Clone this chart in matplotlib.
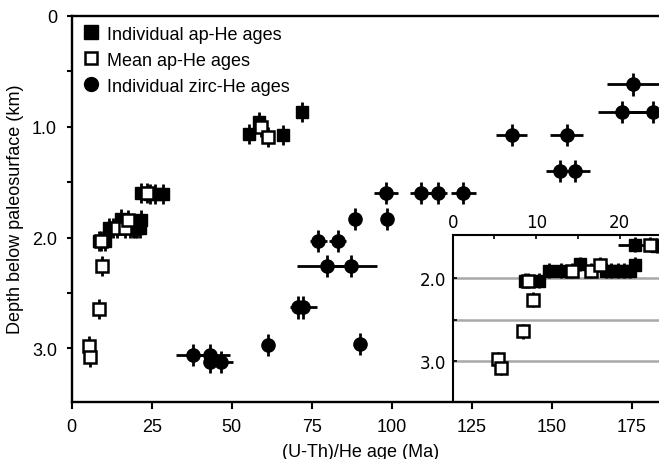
import matplotlib.pyplot as plt
from matplotlib.lines import Line2D

# individual apatite He ages (filled squares)
ap_age = [55.5, 58.5, 66.0, 72.0, 21.8, 24.5, 26.0, 28.6,
          11.5, 13.0, 15.3, 18.3, 19.0, 19.8, 20.5, 21.2, 21.8, 8.6, 10.3]
ap_depth = [1.07, 0.96, 1.075, 0.87, 1.60, 1.61, 1.61, 1.61,
            1.91, 1.91, 1.83, 1.91, 1.91, 1.91, 1.91, 1.91, 1.84, 2.03, 2.03]
ap_xerr = [1.0, 1.0, 1.0, 1.0, 2.0, 0.8, 0.8, 0.8,
           0.6, 0.6, 0.6, 0.5, 0.5, 0.5, 0.5, 0.5, 0.6, 0.6, 0.6]
ap_yerr = 0.09

# mean apatite He ages (open squares)
mean_age = [59.0, 61.4, 23.6, 14.3, 16.5, 17.6, 9.0, 9.6, 8.4, 5.4, 5.8]
mean_depth = [1.0, 1.09, 1.60, 1.91, 1.91, 1.84, 2.03, 2.26, 2.64, 2.98, 3.08]
mean_xerr = [0.5] * len(mean_age)
mean_yerr = 0.09

# individual zircon He ages (filled circles)
zr_age = [175.5, 171.9, 181.6, 137.5, 154.7, 152.6, 157.3, 98.2, 109.2, 114.4,
          122.4, 88.5, 98.5, 77.1, 83.1, 79.7, 87.3, 70.6, 72.4, 61.4, 90.1,
          37.8, 43.2, 43.2, 46.6]
zr_depth = [0.62, 0.87, 0.87, 1.075, 1.075, 1.40, 1.40, 1.60, 1.60, 1.60,
            1.60, 1.83, 1.83, 2.03, 2.03, 2.26, 2.26, 2.63, 2.63, 2.97, 2.96,
            3.06, 3.06, 3.12, 3.12]
zr_xerr = [8.2, 7.5, 7.5, 4.9, 5.2, 4.5, 4.5, 3.9, 3.5, 3.0,
           3.9, 1.0, 1.0, 2.7, 2.7, 9.4, 8.0, 1.5, 4.2, 0.5, 0.5,
           5.2, 6.3, 2.0, 3.9]
zr_yerr = 0.1

legend_labels = ["Individual ap-He ages", "Mean ap-He ages", "Individual zirc-He ages"]

plt.rcParams['font.family'] = ['Liberation Sans', 'DejaVu Sans']


def draw(ax):
    eb = dict(ls='none', ecolor='black', elinewidth=2.0, capsize=0)
    ax.errorbar(zr_age, zr_depth, xerr=zr_xerr, yerr=zr_yerr, marker='o',
                ms=9.5, mfc='black', mec='black', zorder=3, **eb)
    ax.errorbar(ap_age, ap_depth, xerr=ap_xerr, yerr=ap_yerr, marker='s',
                ms=9, mfc='black', mec='black', zorder=4, **eb)
    ax.errorbar(mean_age, mean_depth, xerr=mean_xerr, yerr=mean_yerr, marker='s',
                ms=8.5, mfc='white', mec='black', mew=1.8, zorder=5, **eb)


fig = plt.figure(figsize=(6.59, 4.60), dpi=100)
W, H = 659, 460

ax = fig.add_axes([71.7 / W, (H - 402.7) / H, (W - 71.7) / W, 386 / H])
draw(ax)
ax.set_xlim(0, 183.5)
ax.set_ylim(3.48, 0)
ax.set_xticks([0, 25, 50, 75, 100, 125, 150, 175])
ax.set_yticks([0, 1, 2, 3], ["0", "1.0", "2.0", "3.0"])
ax.set_yticks([0.5, 1.5, 2.5], minor=True)
ax.spines['right'].set_visible(False)
for s in ['left', 'top', 'bottom']:
    ax.spines[s].set_linewidth(1.7)
ax.tick_params(axis='x', direction='out', length=5, width=1.5, pad=7, labelsize=13)
ax.tick_params(axis='y', which='both', direction='out', length=3.6, width=1.5,
               pad=7, labelsize=13)
ax.set_xlabel("(U-Th)/He age (Ma)", fontsize=13, va='top')
ax.xaxis.set_label_coords(0.492, -0.108)
ax.set_ylabel("Depth below paleosurface (km)", fontsize=13)
ax.yaxis.set_label_coords(-0.082, 0.5)

handles = [
    Line2D([], [], ls='none', marker='s', ms=10, mfc='black', mec='black'),
    Line2D([], [], ls='none', marker='s', ms=9, mfc='white', mec='black', mew=1.8),
    Line2D([], [], ls='none', marker='o', ms=10, mfc='black', mec='black'),
]
ax.legend(handles, legend_labels, loc='upper left', bbox_to_anchor=(0, 1),
          frameon=False, fontsize=13, handlelength=1.0, handletextpad=0.4,
          labelspacing=0.5, borderaxespad=0.3, borderpad=0.25)

# inset: zoom of the youngest apatite ages
ins = fig.add_axes([452.7 / W, (H - 401) / H, (W - 452.7) / W, (401 - 236) / H])
ins.set_facecolor('white')
ins.grid(axis='y', which='both', color='#a8a8a8', lw=1.8, zorder=0)
ins.set_axisbelow(True)
draw(ins)
ins.set_xlim(0, 24.7)
ins.set_ylim(3.47, 1.48)
ins.xaxis.tick_top()
ins.set_xticks([0, 10, 20])
ins.set_xticks([5, 15], minor=True)
ins.set_yticks([2, 3], ["2.0", "3.0"])
ins.set_yticks([2.5], minor=True)
for s in ['right', 'bottom']:
    ins.spines[s].set_visible(False)
for s in ['left', 'top']:
    ins.spines[s].set_linewidth(1.5)
for lab in ins.get_xticklabels() + ins.get_yticklabels():
    lab.set_family('DejaVu Sans')
ins.tick_params(axis='x', which='both', direction='in', length=3, width=1.2,
                pad=3, labelsize=12)
ins.tick_params(axis='y', which='both', direction='in', length=3, width=1.2,
                pad=4.5, labelsize=12)

fig.savefig("out.png", dpi=100)
